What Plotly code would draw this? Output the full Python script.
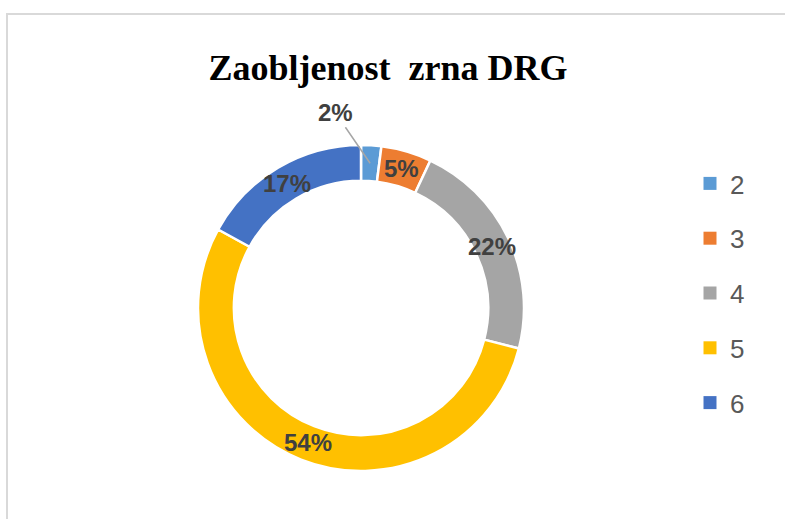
import math
import plotly.graph_objects as go

categories = ["2", "3", "4", "5", "6"]
values = [2, 5, 22, 54, 17]
colors = ["#5B9BD5", "#ED7D31", "#A5A5A5", "#FFC000", "#4472C4"]
title_text = "Zaobljenost\u00a0 zrna DRG"

W, H = 785, 519
cx_px, cy_px, R_px = 361, 308, 163
hole = 0.78

fig = go.Figure()
fig.add_trace(go.Pie(
    labels=categories, values=values, sort=False, direction="clockwise", rotation=0,
    hole=hole, marker=dict(colors=colors, line=dict(color="white", width=2.5)),
    textinfo="none", hoverinfo="label+percent", showlegend=False,
    domain=dict(x=[(cx_px - R_px) / W, (cx_px + R_px) / W],
                y=[1 - (cy_px + R_px) / H, 1 - (cy_px - R_px) / H]),
))

# legend entries (dummy traces so the vertical spacing can match)
for i, (c, col) in enumerate(zip(categories, colors)):
    fig.add_trace(go.Scatter(x=[None], y=[None], mode="markers", name=c,
                             marker=dict(symbol="square", size=13, color=col),
                             legendgroup=c, showlegend=True))

# percentage labels placed at slice mid-angles
total = sum(values)
cum = 0
annotations = []
r_mid = R_px * (1 + hole) / 2
label_font = dict(family="Liberation Sans", size=24, color="#404040")
for i, v in enumerate(values):
    mid = (cum + v / 2) / total * 2 * math.pi
    cum += v
    pct = f"<b>{round(v / total * 100)}%</b>"
    x = (cx_px + r_mid * math.sin(mid)) / W
    y = 1 - (cy_px - r_mid * math.cos(mid)) / H
    if v / total < 0.03:
        annotations.append(dict(x=x, y=y, xref="paper", yref="paper", text=pct,
                                showarrow=True, arrowhead=0, arrowwidth=1.5,
                                arrowcolor="#A6A6A6", ax=-35, ay=-51, standoff=0,
                                font=label_font))
    else:
        annotations.append(dict(x=x, y=y, xref="paper", yref="paper", text=pct,
                                xanchor="center", yanchor="middle",
                                showarrow=False, font=label_font))

fig.update_layout(
    width=W, height=H, paper_bgcolor="white", plot_bgcolor="white",
    margin=dict(l=0, r=0, t=0, b=0),
    title=dict(text="<b>" + title_text + "</b>", x=388 / W, xanchor="center",
               y=1 - 67 / H, yanchor="middle",
               font=dict(family="Liberation Serif", size=36, color="black")),
    xaxis=dict(visible=False), yaxis=dict(visible=False),
    legend=dict(x=690 / W, xanchor="left", y=1 - 160 / H, yanchor="top",
                font=dict(family="Liberation Sans", size=26, color="#595959"),
                tracegroupgap=18, itemwidth=30, bgcolor="rgba(0,0,0,0)"),
    annotations=annotations,
    shapes=[dict(type="rect", xref="paper", yref="paper", x0=7 / W, x1=1.05,
                 y0=-0.05, y1=1 - 14 / H, line=dict(color="#D9D9D9", width=2))],
)

fig.write_html("out.html", config={"displayModeBar": False},
               post_script="document.body.style.margin='0';")
